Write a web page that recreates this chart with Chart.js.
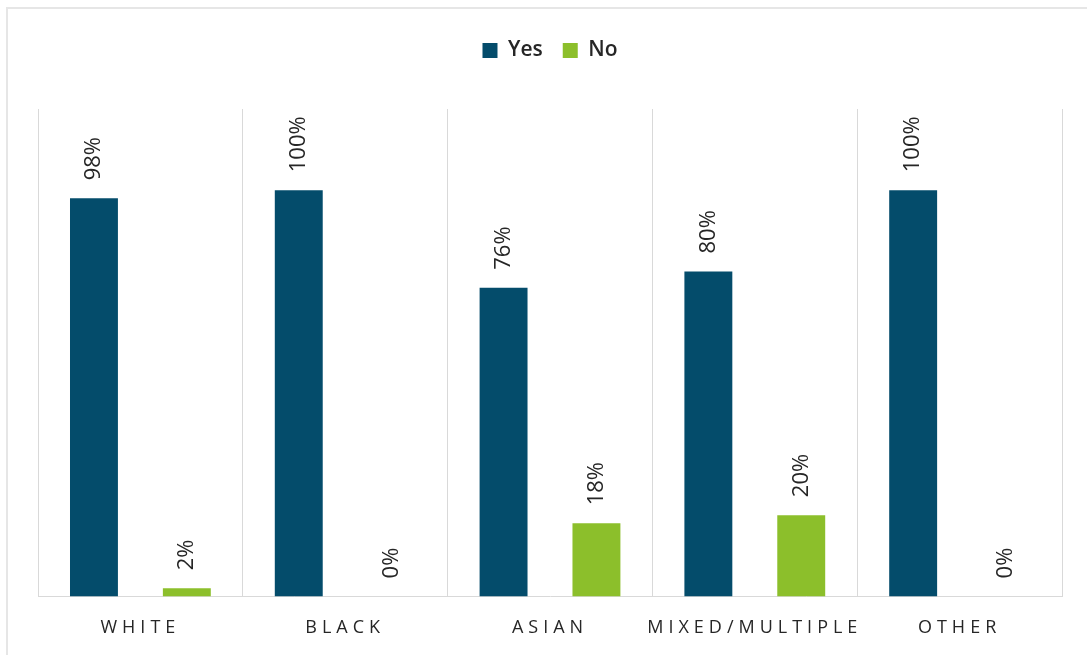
<!DOCTYPE html>
<html>
<head>
<meta charset="utf-8">
<script src="https://cdn.jsdelivr.net/npm/chart.js@4/dist/chart.umd.min.js"></script>
<style>
    html, body { margin: 0; padding: 0; background: #fff; }
    #wrap { position: relative; width: 1087px; height: 655px; overflow: hidden; }
    #frame { position: absolute; left: 6px; top: 7px; width: 1100px; height: 700px;
             border-left: 2px solid #e6e6e6; border-top: 2px solid #e6e6e6; }
    #chart { position: absolute; left: 0; top: 0; }
</style>
</head>
<body>
<div id="wrap">
    <div id="frame"></div>
    <canvas id="chart" width="1087" height="655"></canvas>
</div>
<script>
// categories and series values (%)
const categories = ['WHITE', 'BLACK', 'ASIAN', 'MIXED/MULTIPLE', 'OTHER'];
const yesValues = [98, 100, 76, 80, 100];
const noValues = [2, 0, 18, 20, 0];

const yesColor = '#044C6B';
const noColor = '#8CBF2B';
const textColor = '#262626';
const gridColor = '#d9d9d9';

// rotated value labels sitting above each bar
const barLabels = {
    id: 'barLabels',
    afterDatasetsDraw(chart) {
        const ctx = chart.ctx;
        ctx.save();
        ctx.font = '22px "Open Sans"';
        ctx.fillStyle = textColor;
        ctx.textAlign = 'left';
        ctx.textBaseline = 'middle';
        chart.data.datasets.forEach((ds, i) => {
            chart.getDatasetMeta(i).data.forEach((bar, j) => {
                ctx.save();
                ctx.translate(bar.x, bar.y - 18);
                ctx.rotate(-Math.PI / 2);
                ctx.fillText(ds.data[j] + '%', 0, 0);
                ctx.restore();
            });
        });
        ctx.restore();
    }
};

// spaced-out category labels (only the x axis labels) + room under the legend
const layoutTweaks = {
    id: 'layoutTweaks',
    beforeInit(chart) {
        const legend = chart.legend;
        const fit = legend.fit;
        legend.fit = function() {
            fit.call(this);
            this.height += 38;
        };
    },
    beforeDraw(chart) {
        const scale = chart.scales.x;
        if (!scale._spaced) {
            const drawLabels = scale.drawLabels;
            scale.drawLabels = function(area) {
                this.ctx.save();
                this.ctx.letterSpacing = '5px';
                drawLabels.call(this, area);
                this.ctx.restore();
            };
            scale._spaced = true;
        }
    }
};

new Chart(document.getElementById('chart'), {
    type: 'bar',
    data: {
        labels: categories,
        datasets: [
            { label: 'Yes', data: yesValues, backgroundColor: yesColor },
            { label: 'No', data: noValues, backgroundColor: noColor }
        ]
    },
    options: {
        responsive: false,
        animation: false,
        layout: { padding: { left: 38, right: 25, top: 20, bottom: -5 } },
        datasets: {
            bar: { categoryPercentage: 0.907, barPercentage: 0.516 }
        },
        scales: {
            x: {
                offset: true,
                grid: { display: true, offset: true, color: gridColor, drawTicks: false },
                border: { display: true, color: gridColor },
                ticks: {
                    color: textColor,
                    padding: 21,
                    font: { family: '"Open Sans"', size: 18 }
                }
            },
            y: {
                display: false,
                min: 0,
                max: 120
            }
        },
        plugins: {
            legend: {
                position: 'top',
                labels: {
                    boxWidth: 15,
                    boxHeight: 15,
                    padding: 20,
                    color: textColor,
                    font: { family: '"Open Sans"', size: 21, weight: '600' }
                }
            },
            tooltip: { enabled: false }
        }
    },
    plugins: [layoutTweaks, barLabels]
});
</script>
</body>
</html>
